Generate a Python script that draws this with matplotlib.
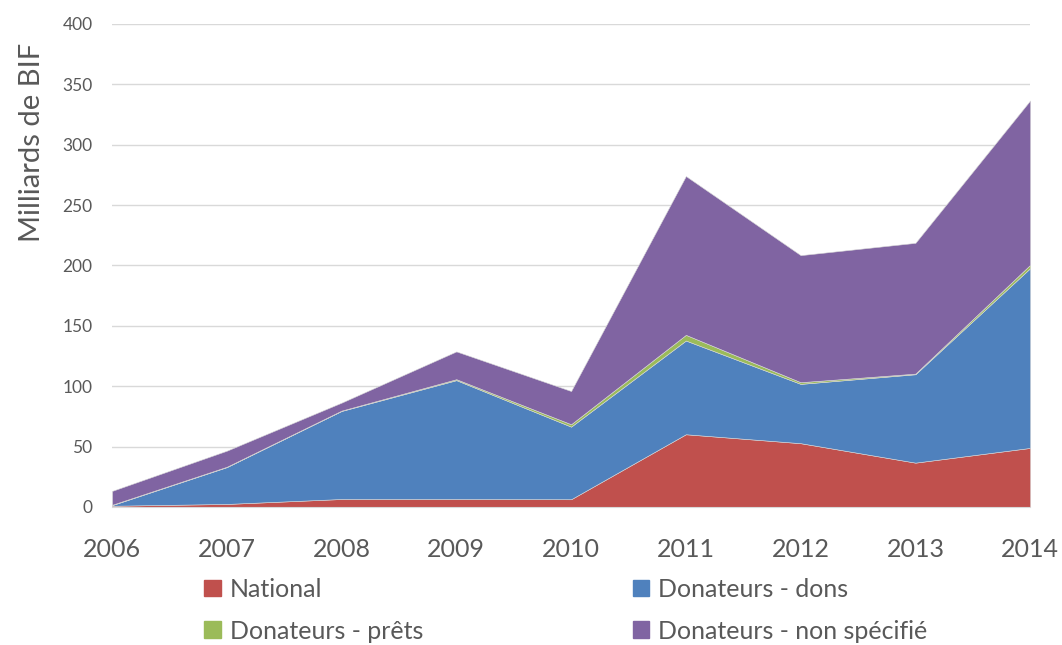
import matplotlib.pyplot as plt
from matplotlib.patches import Patch

years = [2006, 2007, 2008, 2009, 2010, 2011, 2012, 2013, 2014]
national = [1, 2.5, 6.6, 6.6, 6.4, 60.2, 52.8, 36.7, 48.9]
dons = [0.5, 30.5, 72.9, 98.4, 60.1, 77.6, 49.1, 73.2, 148.8]
prets = [0.3, 0.3, 0.3, 0.8, 2.0, 4.7, 1.4, 0.5, 2.8]
non_specifie = [11.5, 13.3, 6.6, 23.0, 27.5, 131.5, 105.2, 108.3, 136.1]

labels = ["National", "Donateurs - dons", "Donateurs - prêts", "Donateurs - non spécifié"]
colors = ["#C0504D", "#4F81BD", "#9BBB59", "#8064A2"]

plt.rcParams['font.family'] = ['Lato', 'DejaVu Sans']

fig = plt.figure(figsize=(10.62, 6.45), dpi=100)
ax = fig.add_axes([0.1055, 0.214, 0.8645, 0.749])

ax.stackplot(years, national, dons, prets, non_specifie, colors=colors,
             linewidth=0.4, edgecolor="#d8d8d8", zorder=2)

ax.set_xlim(2006, 2014)
ax.set_ylim(0, 400)
ax.set_yticks(range(0, 401, 50))
ax.set_xticks(years)
ax.grid(axis="y", color="#d9d9d9", linewidth=1, zorder=0)
ax.set_axisbelow(True)
for s in ["top", "right", "left"]:
    ax.spines[s].set_visible(False)
ax.spines["bottom"].set_color("#d9d9d9")
ax.tick_params(axis="both", length=0, colors="#595959")
ax.tick_params(axis="y", labelsize=12.5, pad=14)
ax.tick_params(axis="x", labelsize=18, pad=22)
ax.set_ylabel("Milliards de BIF", fontsize=21, color="#595959")
ax.yaxis.set_label_coords(-0.073, 0.755)

handles = [Patch(color=c) for c in colors]
order = [0, 2, 1, 3]
fig.legend([handles[i] for i in order], [labels[i] for i in order],
           ncol=2, loc="center", bbox_to_anchor=(0.533, 0.054),
           frameon=False, fontsize=18, labelcolor="#595959",
           handlelength=0.65, handleheight=0.65, handletextpad=0.36,
           columnspacing=8.4, labelspacing=0.75)

fig.savefig("out.png", dpi=100)
